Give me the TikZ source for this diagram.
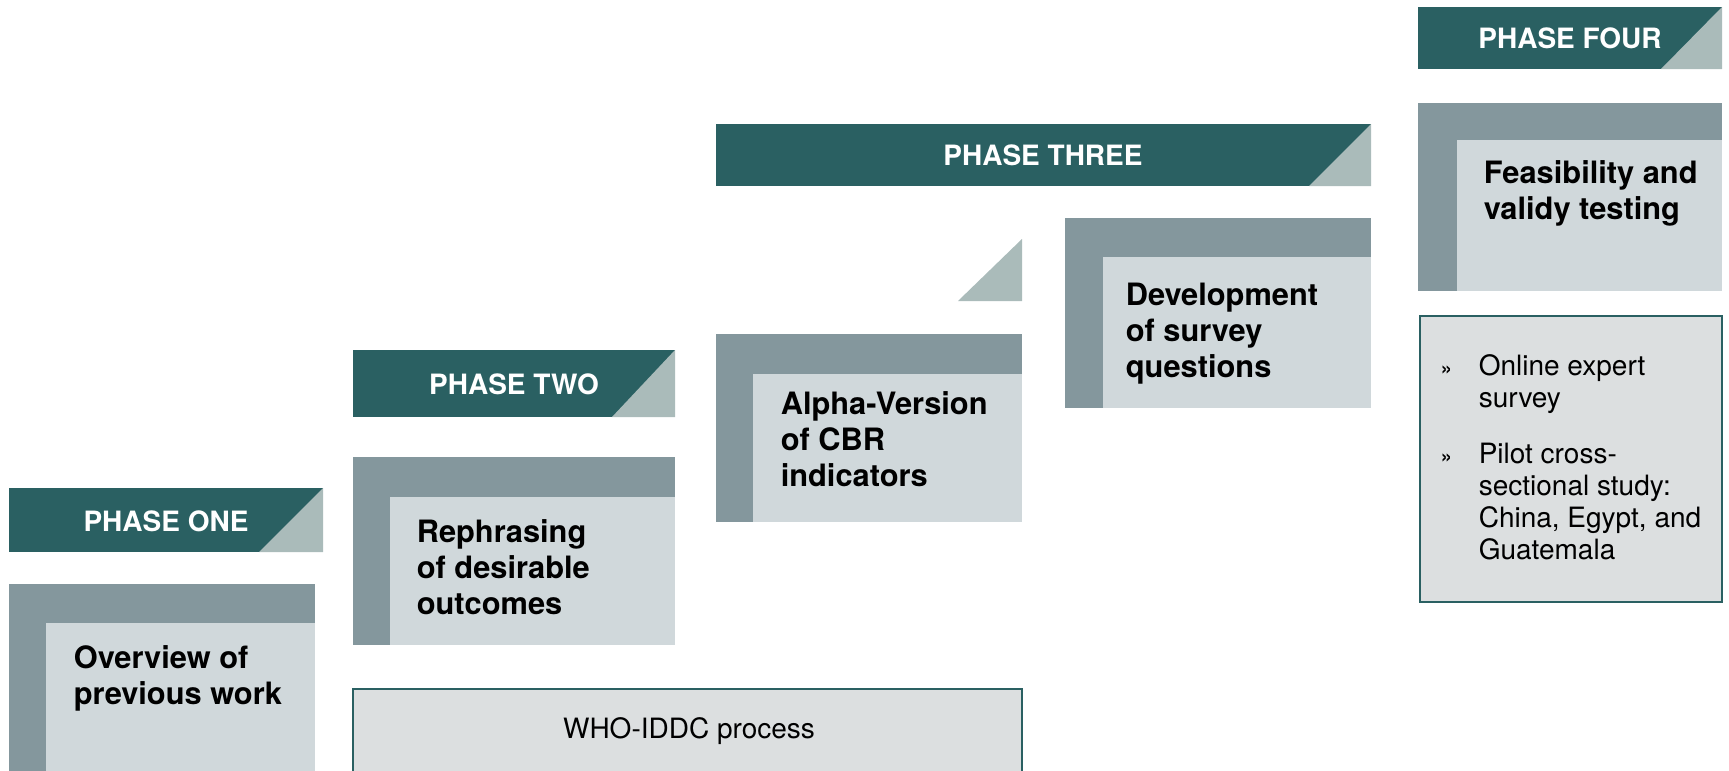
\documentclass[tikz,border=0pt]{standalone}
\usepackage{fontspec}
\setmainfont{TeX Gyre Heros}

\definecolor{phasedark}{HTML}{2A6062}
\definecolor{phasecorner}{HTML}{AABBBA}
\definecolor{framegrey}{HTML}{84979D}
\definecolor{innergrey}{HTML}{D0D8DB}
\definecolor{notefill}{HTML}{DCDFE0}

\tikzset{
  banner/.style={fill=phasedark},
  corner/.style={fill=phasecorner},
  phaselabel/.style={text=white, inner sep=0, font=\bfseries\fontsize{7}{8}\selectfont},
  steptext/.style={anchor=north west, align=left, inner sep=0, font=\bfseries\fontsize{7.7}{9}\selectfont},
  notebox/.style={fill=notefill, draw=phasedark, line width=0.5pt},
}
\newcommand{\notemark}{\makebox[9.5pt][l]{\bfseries\fontsize{5}{6}\selectfont »}}

\begin{document}
\begin{tikzpicture}[x=0.25pt, y=-0.25pt]
\useasboundingbox (0,0) rectangle (1729,771);
\clip (0,0) rectangle (1729,771);

% phase one
\fill[banner] (9,488) rectangle (323,552);
\fill[corner] (259,552) -- (323,552) -- (323,488) -- cycle;
\node[phaselabel] (ph1) at (166,521) {PHASE ONE};
\fill[framegrey] (9,584) rectangle (315,780);
\fill[innergrey] (46,623) rectangle (315,780);
\node[steptext] (s1) at (73,645) {Overview of\\previous work};

% phase two
\fill[banner] (353,350) rectangle (675,417);
\fill[corner] (612,417) -- (675,417) -- (675,350) -- cycle;
\node[phaselabel] (ph2) at (514,384) {PHASE TWO};
\fill[framegrey] (353,457) rectangle (675,645);
\fill[innergrey] (390,497) rectangle (675,645);
\node[steptext] (s2) at (416,519) {Rephrasing\\of desirable\\outcomes};

% who-iddc process, under phases two and three
\filldraw[notebox] (353,689) rectangle (1022,790);
\node[font=\fontsize{7}{8}\selectfont] (who) at (689,731) {WHO-IDDC process};

% phase three
\fill[corner] (958,301) -- (1022,301) -- (1022,239) -- cycle;
\fill[framegrey] (716,334) rectangle (1022,522);
\fill[innergrey] (753,374) rectangle (1022,522);
\node[steptext] (s3a) at (780,391) {Alpha-Version\\of CBR\\indicators};

\fill[banner] (716,124) rectangle (1371,186);
\fill[corner] (1309,186) -- (1371,186) -- (1371,124) -- cycle;
\node[phaselabel] (ph3) at (1043,155) {PHASE THREE};
\fill[framegrey] (1065,218) rectangle (1371,408);
\fill[innergrey] (1103,257) rectangle (1371,408);
\node[steptext] (s3b) at (1125,282) {Development\\of survey\\questions};

% phase four
\fill[banner] (1418,7) rectangle (1722,69);
\fill[corner] (1661,69) -- (1722,69) -- (1722,7) -- cycle;
\node[phaselabel] (ph4) at (1570,38) {PHASE FOUR};
\fill[framegrey] (1418,103) rectangle (1722,291);
\fill[innergrey] (1457,140) rectangle (1722,291);
\node[steptext] (s4) at (1483,160) {Feasibility and\\validy testing};

\filldraw[notebox] (1420,316) rectangle (1722,602);
\node[anchor=north west, inner sep=0, font=\fontsize{7}{8}\selectfont] (tests) at (1440,352)
  {\begin{tabular}{@{}l@{}l@{}}
   \notemark & Online expert\\
             & survey\\[6pt]
   \notemark & Pilot cross-\\
             & sectional study:\\
             & China, Egypt, and\\
             & Guatemala
   \end{tabular}};
\end{tikzpicture}
\end{document}
